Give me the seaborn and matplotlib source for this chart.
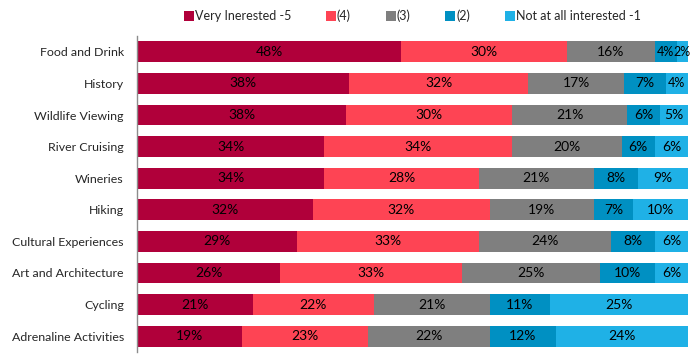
import numpy as np
import pandas as pd
import matplotlib
matplotlib.use("Agg")
import matplotlib.pyplot as plt
import seaborn as sns
from matplotlib.lines import Line2D

categories = ["Food and Drink", "History", "Wildlife Viewing", "River Cruising", "Wineries",
              "Hiking", "Cultural Experiences", "Art and Architecture", "Cycling", "Adrenaline Activities"]
series = ["Very Inerested -5", "(4)", "(3)", "(2)", "Not at all interested -1"]
very5 = [48.0, 38.49, 38.0, 34.0, 34.0, 32.0, 29.0, 26.0, 21.0, 19.0]
lvl4 = [30.0, 32.49, 30.0, 34.0, 28.0, 32.0, 33.0, 33.0, 22.0, 23.0]
lvl3 = [16.0, 17.49, 21.0, 20.0, 21.0, 19.0, 24.0, 25.0, 21.0, 22.0]
lvl2 = [4.0, 7.49, 6.0, 6.0, 8.0, 7.0, 8.0, 10.0, 11.0, 12.0]
not1 = [2.0, 4.04, 5.0, 6.0, 9.0, 10.0, 6.0, 6.0, 25.0, 24.0]
colors = ["#B0003A", "#FE4454", "#7F7F7F", "#0090C2", "#1FB1E6"]

sns.set_theme(style="white")
plt.rcParams['font.family'] = ['Lato', 'DejaVu Sans']

values = [very5, lvl4, lvl3, lvl2, not1]
df = pd.DataFrame({s: v for s, v in zip(series, values)})
df["cat"] = categories
cum = df[series].cumsum(axis=1)

fig = plt.figure(figsize=(6.97, 3.58), dpi=100)
ax = fig.add_axes([0.1966, 0.0168, 0.7904, 0.8826])

for i in range(len(series) - 1, -1, -1):
    d = pd.DataFrame({"cat": categories, "x": cum[series[i]].values})
    sns.barplot(data=d, x="x", y="cat", color=colors[i], saturation=1, width=0.66,
                orient="h", ax=ax, linewidth=0)

for i, s in enumerate(series):
    for j in range(len(categories)):
        v = df[s].iloc[j]
        c = cum[s].iloc[j] - v / 2
        fs = 10 if v >= 5 else 9
        ax.text(c, j, f"{round(v):d}%", ha="center", va="center", fontsize=fs, color="black")

ax.set_xlim(0, 100)
ax.set_ylim(9.5, -0.5)
ax.set_xlabel("")
ax.set_ylabel("")
ax.set_xticks([])
ax.tick_params(axis="y", length=0, pad=9.5, labelsize=8.9)
for sp in ["top", "right", "bottom"]:
    ax.spines[sp].set_visible(False)
ax.spines["left"].set_color("#8C8C8C")
ax.spines["left"].set_linewidth(1)

handles = [Line2D([0], [0], marker="s", linestyle="", markersize=6.5, markerfacecolor=c,
                  markeredgewidth=0) for c in colors]
fig.legend(handles, series, loc="center", bbox_to_anchor=(0.5925, 0.955), ncol=5, frameon=False,
           fontsize=9, handlelength=0.55, handletextpad=0.2, columnspacing=2.9)

fig.savefig("out.png", dpi=100)
